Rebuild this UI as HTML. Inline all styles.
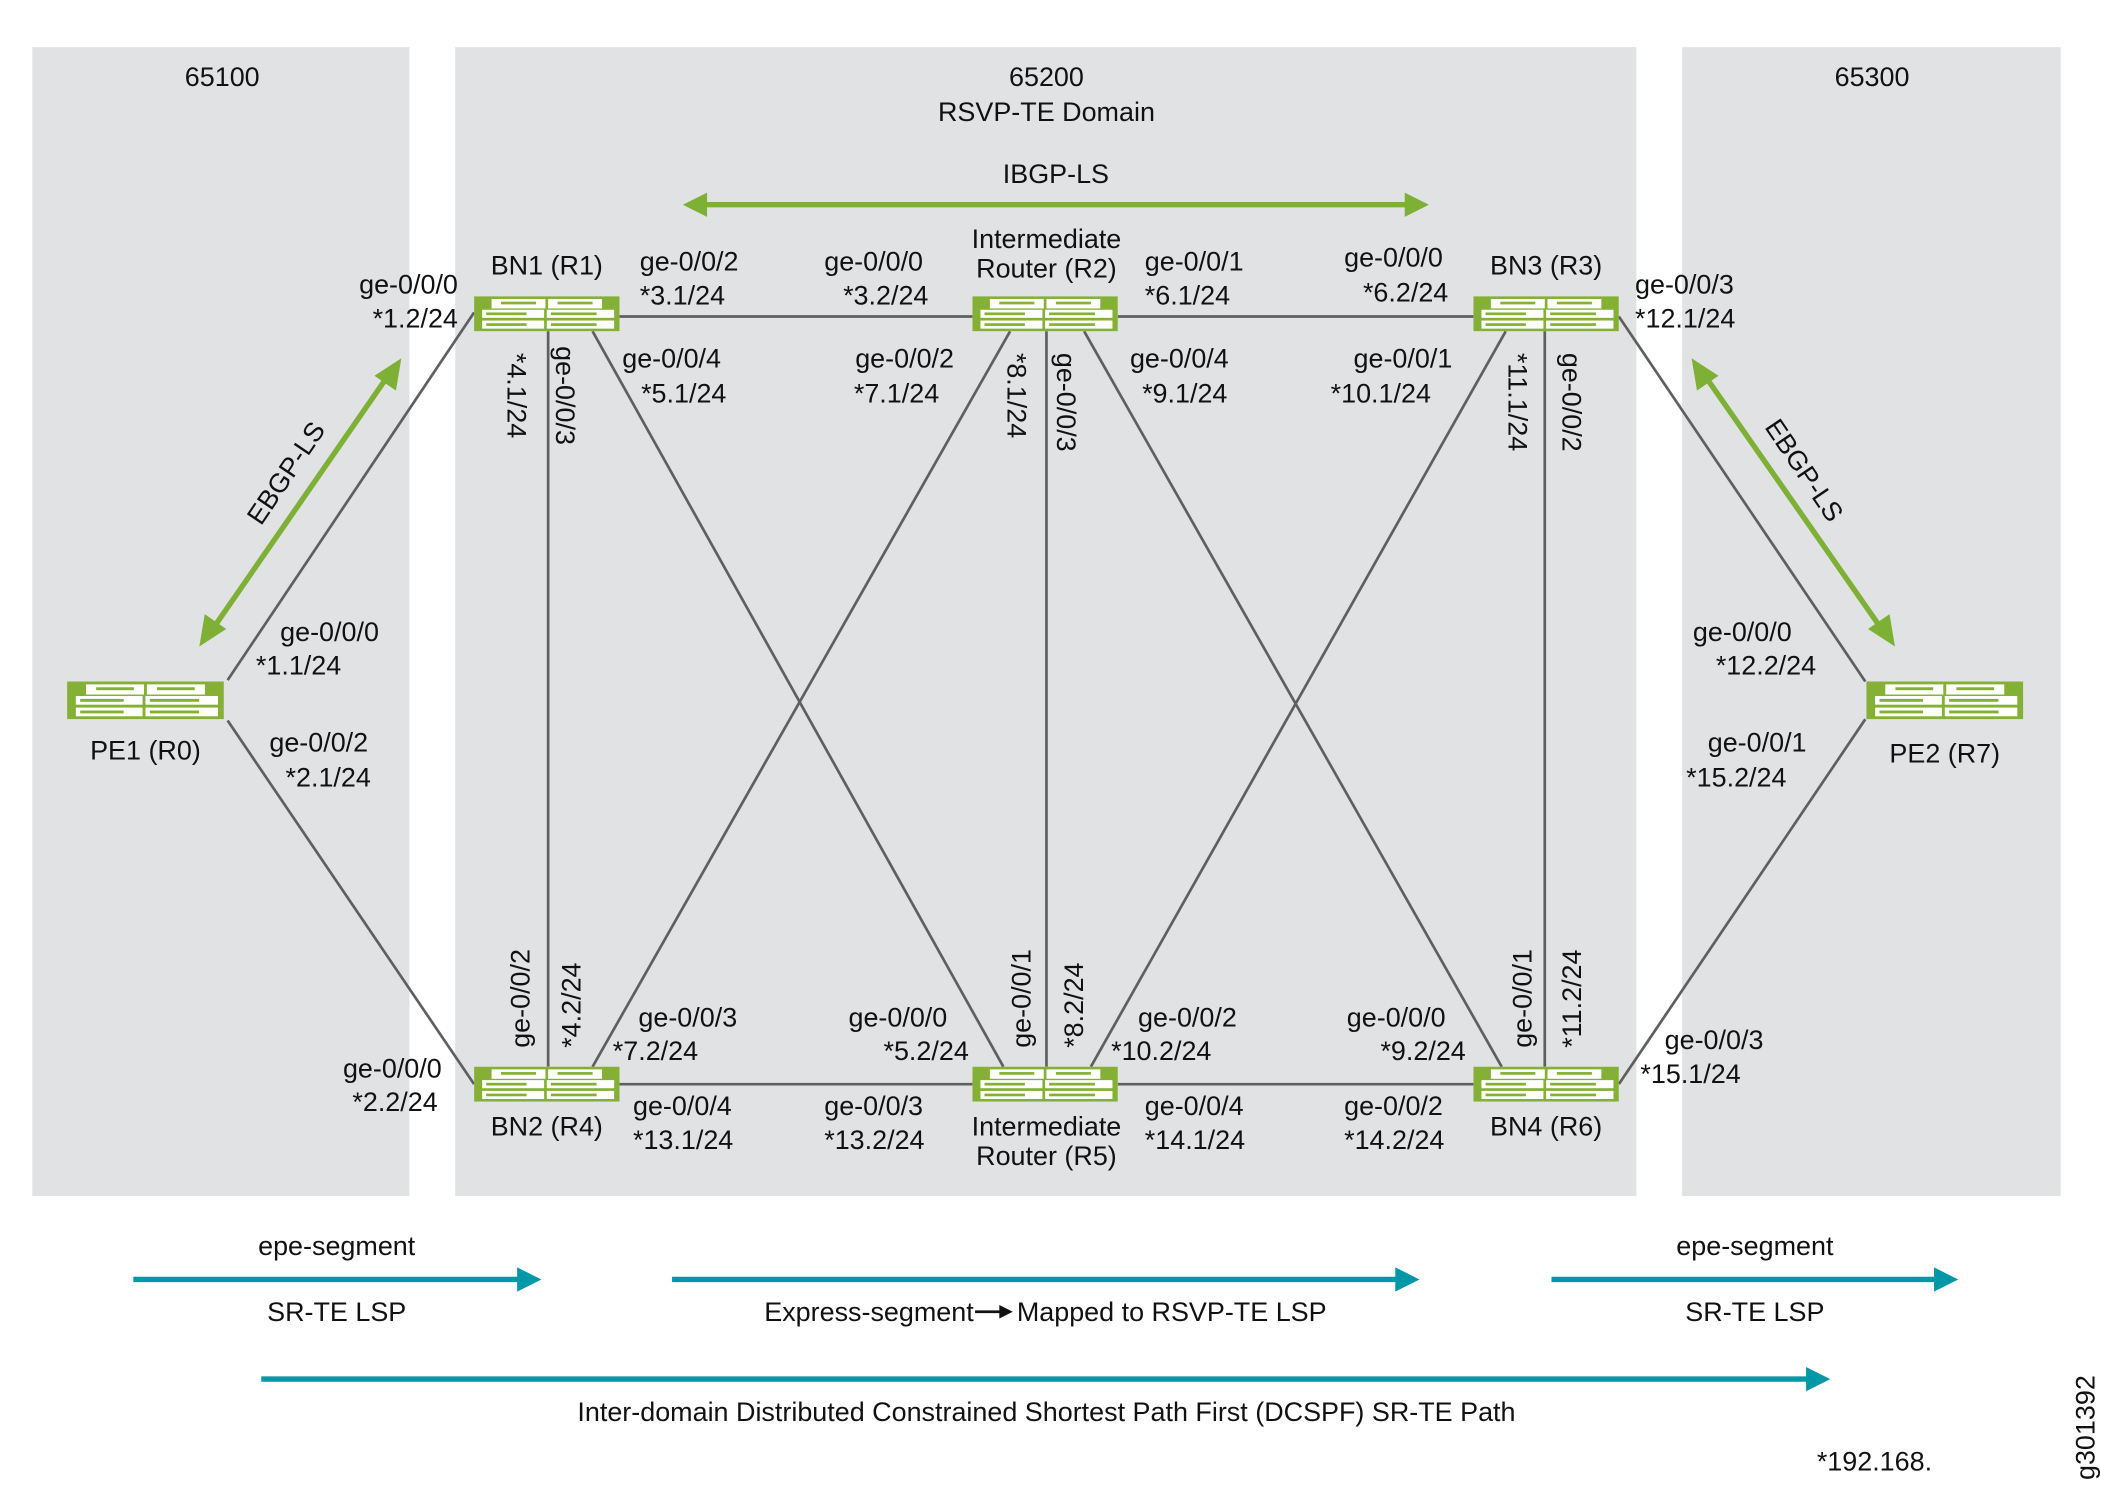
<!DOCTYPE html>
<html><head><meta charset="utf-8"><style>html,body{margin:0;padding:0;background:#fff}svg{display:block}text{font-family:"Liberation Sans",sans-serif;font-size:20px;fill:#111}</style></head>
<body>
<svg width="2101" height="1494" viewBox="0 0 1560 1109.3" xmlns="http://www.w3.org/2000/svg">
<defs>
<symbol id="rt" viewBox="0 0 108 26">
<rect x="0" y="0" width="108" height="26" fill="#84b135"/>
<rect x="13" y="2" width="40" height="7" fill="#fff"/><rect x="55" y="2" width="40" height="7" fill="#fff"/>
<rect x="6" y="10" width="46" height="6" fill="#fff"/><rect x="54" y="10" width="50" height="6" fill="#fff"/>
<rect x="6" y="18" width="46" height="6" fill="#fff"/><rect x="54" y="18" width="50" height="6" fill="#fff"/>
<rect x="20" y="4" width="26" height="2" fill="#84b135"/><rect x="62" y="4" width="26" height="2" fill="#84b135"/>
<rect x="9" y="12" width="30" height="2" fill="#84b135"/><rect x="57" y="12" width="34" height="2" fill="#84b135"/>
<rect x="9" y="20" width="30" height="2" fill="#84b135"/><rect x="57" y="20" width="34" height="2" fill="#84b135"/>
</symbol>
</defs>
<rect x="24" y="35" width="280" height="853" fill="#e1e2e4"/>
<rect x="338" y="35" width="877" height="853" fill="#e1e2e4"/>
<rect x="1249" y="35" width="281" height="853" fill="#e1e2e4"/>
<g stroke="#5f5f5f" stroke-width="2" fill="none">
<line x1="460" y1="235" x2="722" y2="235"/><line x1="830" y1="235" x2="1094" y2="235"/>
<line x1="460" y1="805" x2="722" y2="805"/><line x1="830" y1="805" x2="1094" y2="805"/>
<line x1="169" y1="505" x2="352" y2="232"/><line x1="169" y1="535" x2="352" y2="805"/>
<line x1="407" y1="246" x2="407" y2="792"/><line x1="777" y1="246" x2="777" y2="792"/><line x1="1147" y1="246" x2="1147" y2="792"/>
<line x1="440" y1="246" x2="745" y2="792"/><line x1="750" y1="246" x2="440" y2="792"/>
<line x1="805" y1="246" x2="1115" y2="792"/><line x1="1118" y1="246" x2="810" y2="792"/>
<line x1="1202" y1="235" x2="1385" y2="506"/><line x1="1202" y1="805" x2="1385" y2="534"/>
</g>
<use href="#rt" x="352" y="220" width="108" height="26"/>
<use href="#rt" x="722" y="220" width="108" height="26"/>
<use href="#rt" x="1094" y="220" width="108" height="26"/>
<use href="#rt" x="352" y="792" width="108" height="26"/>
<use href="#rt" x="722" y="792" width="108" height="26"/>
<use href="#rt" x="1094" y="792" width="108" height="26"/>
<use href="#rt" x="47" y="506" width="122" height="28" preserveAspectRatio="none"/>
<use href="#rt" x="1383" y="506" width="122" height="28" preserveAspectRatio="none"/>
<g stroke="#7eb036" stroke-width="4" fill="#7eb036">
<line x1="160" y1="464" x2="286" y2="282"/>
<polygon stroke="none" points="148,480 152,456 168,467"/><polygon stroke="none" points="298,266 294,290 278,279"/>
<line x1="1268" y1="282" x2="1395" y2="464"/>
<polygon stroke="none" points="1256,266 1276,279 1260,290"/><polygon stroke="none" points="1407,480 1387,467 1403,456"/>
<line x1="524" y1="152" x2="1044" y2="152"/>
<polygon stroke="none" points="507,152 525,143 525,161"/><polygon stroke="none" points="1061,152 1043,143 1043,161"/>
</g>
<g stroke="#0097a7" stroke-width="4" fill="#0097a7">
<line x1="99" y1="950" x2="386" y2="950"/><polygon stroke="none" points="402,950 384,941 384,959"/>
<line x1="499" y1="950" x2="1038" y2="950"/><polygon stroke="none" points="1054,950 1036,941 1036,959"/>
<line x1="1152" y1="950" x2="1438" y2="950"/><polygon stroke="none" points="1454,950 1436,941 1436,959"/>
<line x1="194" y1="1024" x2="1343" y2="1024"/><polygon stroke="none" points="1359,1024 1341,1015 1341,1033"/>
</g>
<g text-anchor="middle">
<text x="165" y="64">65100</text><text x="777" y="64">65200</text><text x="777" y="90">RSVP-TE Domain</text><text x="1390" y="64">65300</text>
<text x="784" y="136">IBGP-LS</text>
<text x="406" y="204">BN1 (R1)</text><text x="777" y="184">Intermediate</text><text x="777" y="206">Router (R2)</text><text x="1148" y="204">BN3 (R3)</text>
<text x="108" y="564">PE1 (R0)</text><text x="1444" y="566">PE2 (R7)</text>
<text x="406" y="843">BN2 (R4)</text><text x="777" y="843">Intermediate</text><text x="777" y="865">Router (R5)</text><text x="1148" y="843">BN4 (R6)</text>
<text x="250" y="932">epe-segment</text><text x="250" y="981">SR-TE LSP</text>
<text x="1303" y="932">epe-segment</text><text x="1303" y="981">SR-TE LSP</text>
<text x="777" y="1055">Inter-domain Distributed Constrained Shortest Path First (DCSPF) SR-TE Path</text>
</g>
<text x="723" y="981" text-anchor="end">Express-segment</text>
<line x1="724" y1="974" x2="744" y2="974" stroke="#111" stroke-width="2"/><polygon points="752,974 742,969 742,979" fill="#111"/>
<text x="755" y="981">Mapped to RSVP-TE LSP</text>
<text x="1349" y="1092">*192.168.</text>
<text transform="translate(1555,1060) rotate(-90)" text-anchor="middle">g301392</text>
<g text-anchor="end">
<text x="340" y="218">ge-0/0/0</text><text x="340" y="243">*1.2/24</text>
<text x="328" y="800">ge-0/0/0</text><text x="325" y="825">*2.2/24</text>
</g>
<text x="475" y="201">ge-0/0/2</text><text x="475" y="226">*3.1/24</text>
<text x="612" y="201">ge-0/0/0</text><text x="626" y="226">*3.2/24</text>
<text x="850" y="201">ge-0/0/1</text><text x="850" y="226">*6.1/24</text>
<text x="998" y="198">ge-0/0/0</text><text x="1012" y="224">*6.2/24</text>
<text x="1214" y="218">ge-0/0/3</text><text x="1214" y="243">*12.1/24</text>
<text x="462" y="273">ge-0/0/4</text><text x="476" y="299">*5.1/24</text>
<text x="635" y="273">ge-0/0/2</text><text x="634" y="299">*7.1/24</text>
<text x="839" y="273">ge-0/0/4</text><text x="848" y="299">*9.1/24</text>
<text x="1005" y="273">ge-0/0/1</text><text x="988" y="299">*10.1/24</text>
<text x="208" y="476">ge-0/0/0</text><text x="190" y="501">*1.1/24</text>
<text x="200" y="558">ge-0/0/2</text><text x="212" y="584">*2.1/24</text>
<text x="474" y="762">ge-0/0/3</text><text x="455" y="787">*7.2/24</text>
<text x="470" y="828">ge-0/0/4</text><text x="470" y="853">*13.1/24</text>
<text x="630" y="762">ge-0/0/0</text><text x="656" y="787">*5.2/24</text>
<text x="612" y="828">ge-0/0/3</text><text x="612" y="853">*13.2/24</text>
<text x="845" y="762">ge-0/0/2</text><text x="825" y="787">*10.2/24</text>
<text x="850" y="828">ge-0/0/4</text><text x="850" y="853">*14.1/24</text>
<text x="1000" y="762">ge-0/0/0</text><text x="1025" y="787">*9.2/24</text>
<text x="998" y="828">ge-0/0/2</text><text x="998" y="853">*14.2/24</text>
<text x="1236" y="779">ge-0/0/3</text><text x="1218" y="804">*15.1/24</text>
<text x="1257" y="476">ge-0/0/0</text><text x="1274" y="501">*12.2/24</text>
<text x="1268" y="558">ge-0/0/1</text><text x="1252" y="584">*15.2/24</text>
<text transform="translate(377,262) rotate(90)">*4.1/24</text>
<text transform="translate(413,257) rotate(90)">ge-0/0/3</text>
<text transform="translate(748,262) rotate(90)">*8.1/24</text>
<text transform="translate(785,262) rotate(90)">ge-0/0/3</text>
<text transform="translate(1120,262) rotate(90)">*11.1/24</text>
<text transform="translate(1160,262) rotate(90)">ge-0/0/2</text>
<text transform="translate(393,778) rotate(-90)">ge-0/0/2</text>
<text transform="translate(431,778) rotate(-90)">*4.2/24</text>
<text transform="translate(765,778) rotate(-90)">ge-0/0/1</text>
<text transform="translate(804,778) rotate(-90)">*8.2/24</text>
<text transform="translate(1137,778) rotate(-90)">ge-0/0/1</text>
<text transform="translate(1174,778) rotate(-90)">*11.2/24</text>
<text transform="translate(218,355) rotate(-56)" text-anchor="middle">EBGP-LS</text>
<text transform="translate(1334,353) rotate(56)" text-anchor="middle">EBGP-LS</text>
</svg>
</body></html>
